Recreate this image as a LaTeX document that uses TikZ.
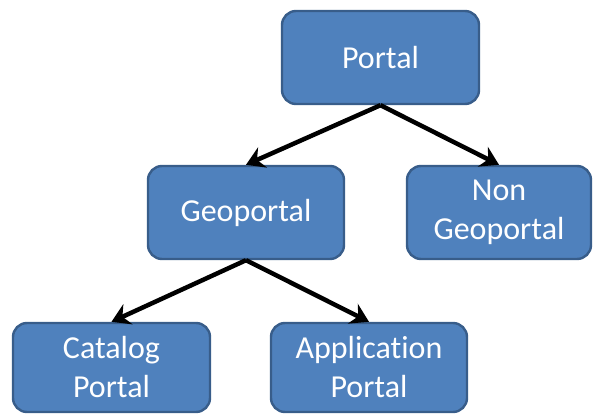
\documentclass[tikz,border=0pt]{standalone}
\usepackage{fontspec}
\setmainfont{Carlito}[Ligatures=NoCommon]
\usetikzlibrary{arrows.meta}
\definecolor{boxfill}{HTML}{4F81BD}
\definecolor{boxline}{HTML}{385D8A}
\begin{document}
\begin{tikzpicture}[x=1pt,y=-1pt,
	portalbox/.style={draw=boxline,fill=boxfill,line width=2.4pt,rounded corners=14pt,
		text=white,align=center,inner sep=0pt,minimum height=93pt,
		font=\fontsize{32}{39}\selectfont},
	link/.style={-{Stealth[length=18pt,width=22pt,inset=6pt]},line width=4.5pt,black}]
	\useasboundingbox (0,0) rectangle (594,414);
	\node[portalbox,minimum width=197pt] (portal) at (380.5,57.5){Portal};
	\node[portalbox,minimum width=196pt] (geo) at (246,212.5){Geoportal};
	\node[portalbox,minimum width=184pt] (nongeo) at (499,212.5){Non\\Geoportal};
	\node[portalbox,minimum width=197pt,minimum height=89pt] (catalog) at (111.5,367.5){Catalog\\Portal};
	\node[portalbox,minimum width=196pt,minimum height=89pt] (app) at (369,367.5){Application\\Portal};
	\draw (portal.south) edge [link] (geo.north);
	\draw (portal.south) edge [link] (nongeo.north);
	\draw (geo.south) edge [link] (catalog.north);
	\draw (geo.south) edge [link] (app.north);
\end{tikzpicture}
\end{document}
